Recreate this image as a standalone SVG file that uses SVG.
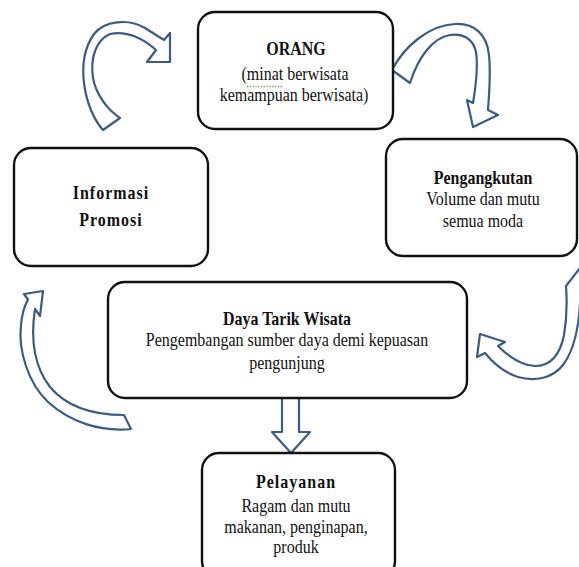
<svg xmlns="http://www.w3.org/2000/svg" width="579" height="567" viewBox="0 0 579 567">
  <style>
    .box { fill: #ffffff; stroke: #111111; stroke-width: 2.4; }
    .conn { fill: #ffffff; stroke: #3b5b85; stroke-width: 2.2; stroke-linejoin: round; }
    .t { font-family: "Liberation Serif", "Times New Roman", serif; font-size: 16px; fill: #111111; text-anchor: middle; }
    .b { font-weight: bold; }
    .sp { letter-spacing: 1px; }
    .squiggle { fill: none; stroke: #5f9e4a; stroke-width: 1.3; stroke-dasharray: 1.2 1.6; }
  </style>
  <rect width="579" height="567" fill="#ffffff"/>

  <!-- connectors: curved block arrows around the cycle and the straight down arrow -->
  <g id="connectors">
    <!-- Informasi Promosi -> ORANG -->
    <path class="conn" d="M103,130 C85,110 74,62 94,34 C104,21 128,18 145,28 L164,40 L170,33 L170,62 L147,62 L156,50 C145,40 128,30 110,34 C96,40 90,58 93,78 C96,95 108,110 120,118 Z"/>
    <!-- ORANG -> Pengangkutan -->
    <path class="conn" d="M392,70 C405,45 430,25 455,24 C475,23 487,35 489,55 C491,75 489,95 488,110 L498,115 L473,127 L467,100 L473,103 C476,85 478,65 476,52 C473,38 462,33 450,35 C432,38 418,58 410,83 Z"/>
    <!-- Pengangkutan -> Daya Tarik Wisata -->
    <path class="conn" d="M580,268 C582,310 578,345 563,365 C553,378 535,382 518,377 C505,373 494,364 485,353 L477,357 L480,334 L505,342 L498,346 C507,355 520,365 535,366 C550,366 560,355 564,335 C567,318 567,300 566,286 Z"/>
    <!-- Daya Tarik Wisata -> Informasi Promosi -->
    <path class="conn" d="M28,299.5 L24,294 L43,291 L40,316 L35,309 C31,335 33,365 50,387 C65,405 90,415 124,415 L131,429 C100,432 70,422 48,402 C28,383 18,350 21,325 C22,313 25,305 28,299.5 Z"/>
    <!-- Daya Tarik Wisata -> Pelayanan -->
    <path class="conn" d="M282,398 L299,398 L299,432 L310,432 L291,453 L272,432 L282,432 Z"/>
  </g>

  <g id="orang">
    <rect class="box" x="198" y="12" width="195" height="117" rx="17"/>
    <text class="t b" transform="translate(296,55) scale(1,1.12)">ORANG</text>
    <text class="t" transform="translate(295,80) scale(1,1.12)">(minat berwisata</text>
    <path class="squiggle" d="M247,86.5 L283,86.5"/>
    <text class="t" transform="translate(294,101) scale(1,1.12)">kemampuan berwisata)</text>
  </g>

  <g id="informasi-promosi">
    <rect class="box" x="14" y="148" width="194" height="118" rx="17"/>
    <text class="t b sp" transform="translate(111,199) scale(1,1.12)">Informasi</text>
    <text class="t b sp" transform="translate(111,226) scale(1,1.12)">Promosi</text>
  </g>

  <g id="pengangkutan">
    <rect class="box" x="386" y="139" width="191" height="117" rx="17"/>
    <text class="t b" transform="translate(483,184) scale(1,1.12)">Pengangkutan</text>
    <text class="t" transform="translate(483,205) scale(1,1.12)">Volume dan mutu</text>
    <text class="t" transform="translate(483,227) scale(1,1.12)">semua moda</text>
  </g>

  <g id="daya-tarik-wisata">
    <rect class="box" x="108" y="282" width="359" height="116" rx="17"/>
    <text class="t b" transform="translate(287,325) scale(1,1.12)">Daya Tarik Wisata</text>
    <text class="t" transform="translate(287,346) scale(1,1.12)">Pengembangan sumber daya demi kepuasan</text>
    <text class="t" transform="translate(287,369) scale(1,1.12)">pengunjung</text>
  </g>

  <g id="pelayanan">
    <rect class="box" x="202" y="453" width="193" height="125" rx="17"/>
    <text class="t b sp" transform="translate(296,488) scale(1,1.12)">Pelayanan</text>
    <text class="t" transform="translate(296,512) scale(1,1.12)">Ragam dan mutu</text>
    <text class="t" transform="translate(296,533) scale(1,1.12)">makanan, penginapan,</text>
    <text class="t" transform="translate(296,553) scale(1,1.12)">produk</text>
  </g>
</svg>
